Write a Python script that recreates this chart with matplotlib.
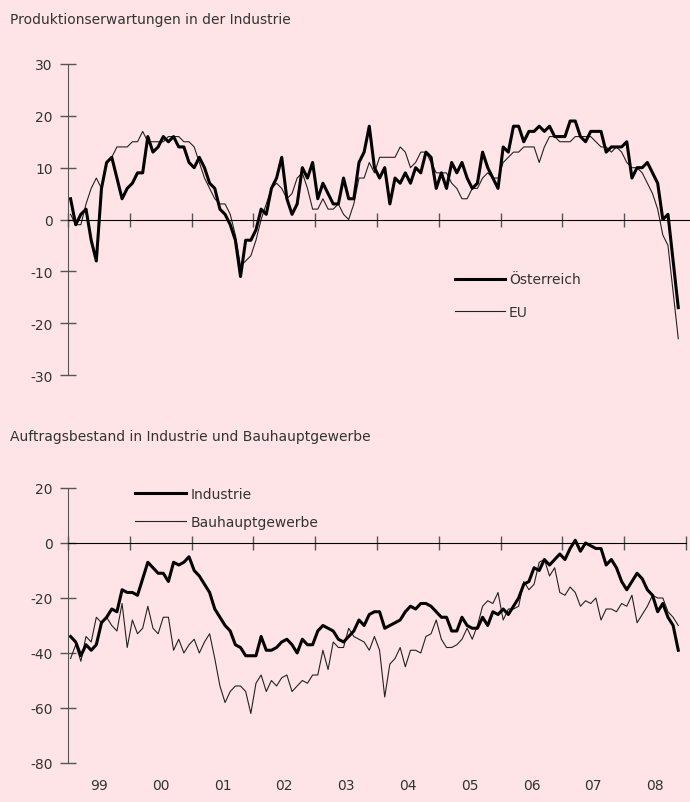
import numpy as np
import matplotlib.pyplot as plt
from matplotlib.lines import Line2D

# monthly values, Jan 1999 - Nov 2008
oesterreich = [4, -1, 1, 2, -4, -8, 6, 11, 12, 8, 4, 6,
               7, 9, 9, 16, 13, 14, 16, 15, 16, 14, 14, 11,
               10, 12, 10, 7, 6, 2, 1, -1, -4, -11, -4, -4,
               -2, 2, 1, 6, 8, 12, 4, 1, 3, 10, 8, 11,
               4, 7, 5, 3, 3, 8, 4, 4, 11, 13, 18, 10,
               8, 10, 3, 8, 7, 9, 7, 10, 9, 13, 12, 6,
               9, 6, 11, 9, 11, 8, 6, 7, 13, 10, 8, 6,
               14, 13, 18, 18, 15, 17, 17, 18, 17, 18, 16, 16,
               16, 19, 19, 16, 15, 17, 17, 17, 13, 14, 14, 14,
               15, 8, 10, 10, 11, 9, 7, 0, 1, -8, -17]
eu = [1, -1, -1, 3, 6, 8, 6, 11, 12, 14, 14, 14,
      15, 15, 17, 15, 15, 15, 15, 16, 16, 16, 15, 15,
      14, 11, 8, 6, 4, 3, 3, 1, -3, -9, -8, -7,
      -4, 0, 3, 6, 7, 6, 4, 5, 8, 9, 6, 2,
      2, 4, 2, 2, 3, 1, 0, 3, 8, 8, 11, 9,
      12, 12, 12, 12, 14, 13, 10, 11, 13, 13, 11, 9,
      9, 9, 7, 6, 4, 4, 6, 6, 8, 9, 8, 8,
      11, 12, 13, 13, 14, 14, 14, 11, 14, 16, 16, 15,
      15, 15, 16, 16, 16, 16, 15, 14, 14, 13, 14, 13,
      11, 10, 10, 9, 7, 5, 2, -3, -5, -14, -23]
industrie = [-34, -36, -41, -37, -39, -37, -29, -27, -24, -25, -17, -18,
             -18, -19, -13, -7, -9, -11, -11, -14, -7, -8, -7, -5,
             -10, -12, -15, -18, -24, -27, -30, -32, -37, -38, -41, -41,
             -41, -34, -39, -39, -38, -36, -35, -37, -40, -35, -37, -37,
             -32, -30, -31, -32, -35, -36, -34, -32, -28, -30, -26, -25,
             -25, -31, -30, -29, -28, -25, -23, -24, -22, -22, -23, -25,
             -27, -27, -32, -32, -27, -30, -31, -31, -27, -30, -25, -26,
             -24, -26, -23, -20, -15, -14, -9, -10, -6, -8, -6, -4,
             -6, -2, 1, -3, 0, -1, -2, -2, -8, -6, -9, -14,
             -17, -14, -11, -13, -17, -19, -25, -22, -27, -30, -39]
bau = [-42, -37, -43, -34, -36, -27, -29, -27, -30, -32, -22, -38,
       -28, -33, -31, -23, -31, -33, -27, -27, -39, -35, -40, -37,
       -35, -40, -36, -33, -42, -52, -58, -54, -52, -52, -54, -62,
       -51, -48, -54, -50, -52, -49, -48, -54, -52, -50, -51, -48,
       -48, -39, -46, -36, -38, -38, -31, -34, -35, -36, -39, -34,
       -39, -56, -44, -42, -38, -45, -39, -39, -40, -34, -33, -28,
       -35, -38, -38, -37, -35, -31, -35, -30, -23, -21, -22, -18,
       -28, -24, -24, -23, -14, -17, -15, -7, -6, -12, -9, -18,
       -19, -16, -18, -23, -21, -22, -20, -28, -24, -24, -25, -22,
       -23, -19, -29, -26, -23, -19, -20, -20, -25, -27, -30]
years = ["99", "00", "01", "02", "03", "04", "05", "06", "07", "08"]

BG = "#FFE4E7"
plt.rcParams["font.family"] = "DejaVu Sans"
plt.rcParams["axes.unicode_minus"] = False
FS = 10


def style(ax, ylim, yticks, xmax, xticks):
    ax.set_facecolor(BG)
    ax.set_xlim(0, xmax)
    ax.set_ylim(*ylim)
    ax.set_yticks(yticks)
    ax.spines["top"].set_visible(False)
    ax.spines["right"].set_visible(False)
    ax.spines["bottom"].set_position(("data", 0))
    ax.spines["left"].set_color("#555555")
    ax.spines["bottom"].set_color("black")
    ax.set_xticks(xticks)
    ax.tick_params(axis="x", direction="inout", length=10, width=1,
                   color="#555555", labelbottom=False)
    ax.tick_params(axis="y", direction="inout", length=12, width=1,
                   color="#555555", pad=5, labelsize=FS, labelcolor="#333333")


fig = plt.figure(figsize=(6.9, 8.03), dpi=100, facecolor=BG)

x = np.arange(len(oesterreich)) + 0.5

# top panel
ax1 = fig.add_axes([68 / 690, 1 - 376 / 803, 622 / 690, 311 / 803])
style(ax1, (-30, 30), np.arange(-30, 31, 10), 120 * 622 / 618,
      np.arange(0, 120, 12))
ax1.plot(x, eu, color="#222222", lw=0.8)
ax1.plot(x, oesterreich, color="black", lw=2.2)
h1 = [Line2D([], [], color="black", lw=2.2), Line2D([], [], color="#222222", lw=0.8)]
ax1.legend(h1, ["Österreich", "EU"], loc="upper left", bbox_to_anchor=(0.622, 0.33),
           frameon=False, handlelength=3.6, handletextpad=0.3, labelspacing=1.35,
           fontsize=FS, borderaxespad=0, borderpad=0, labelcolor="#333333")
fig.text(10 / 690, 1 - 20 / 803, "Produktionserwartungen in der Industrie",
         va="center", fontsize=FS, color="#333333")

# bottom panel
ax2 = fig.add_axes([68 / 690, 1 - 764 / 803, 618 / 690, 275 / 803])
style(ax2, (-80, 20), np.arange(-80, 21, 20), 120, np.arange(0, 121, 12))
ax2.plot(x, bau, color="#222222", lw=0.8)
ax2.plot(x, industrie, color="black", lw=2.2)
h2 = [Line2D([], [], color="black", lw=2.2), Line2D([], [], color="#222222", lw=0.8)]
ax2.legend(h2, ["Industrie", "Bauhauptgewerbe"], loc="upper left",
           bbox_to_anchor=(0.108, 1.005), frameon=False, handlelength=3.7,
           handletextpad=0.3, labelspacing=1.0, fontsize=FS,
           borderaxespad=0, borderpad=0, labelcolor="#333333")
fig.text(10 / 690, 1 - 437 / 803, "Auftragsbestand in Industrie und Bauhauptgewerbe",
         va="center", fontsize=FS, color="#333333")

sec = ax2.secondary_xaxis(0)
sec.set_xticks(np.arange(6, 120, 12), labels=years)
sec.tick_params(length=0, pad=11, labelsize=FS, labelcolor="#333333")
sec.spines["bottom"].set_visible(False)

fig.savefig("out.png", dpi=100, facecolor=BG)
